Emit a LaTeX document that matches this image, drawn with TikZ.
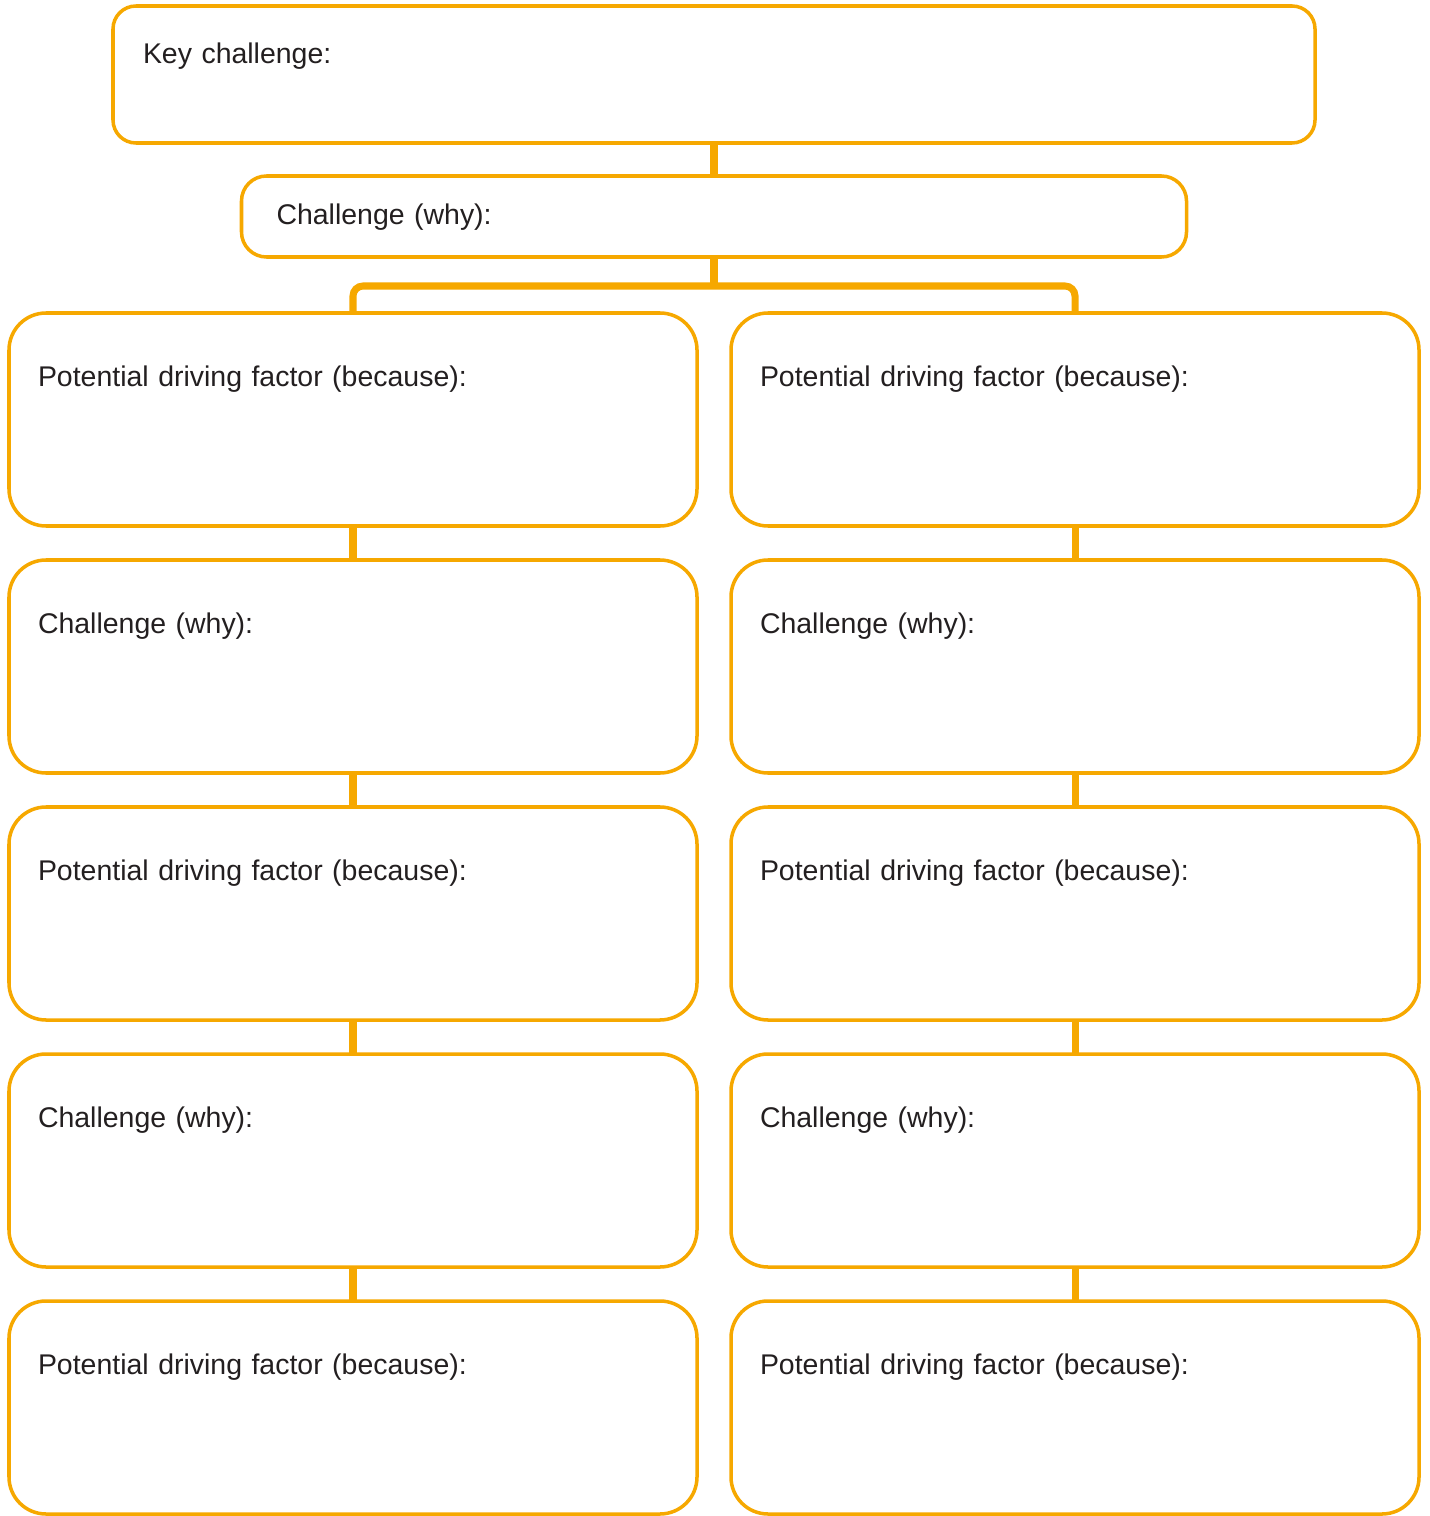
\documentclass[tikz,border=0pt]{standalone}
\usepackage{fontspec}
\setmainfont{Liberation Sans}
\usetikzlibrary{positioning}
\definecolor{boxorange}{RGB}{246,168,0}
\definecolor{textgray}{RGB}{35,31,32}

\begin{document}
\begin{tikzpicture}[node distance=0.34cm,
  main_node/.style={draw=boxorange, line width=1pt, outer sep=0pt, rounded corners=0.37cm, inner xsep=0.29cm, inner ysep=0cm, text width=6.3cm, text height=0.73cm, text depth=1.4cm, align=left, text=textgray, font=\fontsize{8.1pt}{10pt}\selectfont},
  link_line/.style={draw=boxorange, line width=2pt}]

  \useasboundingbox (0,0) rectangle (14.29,-15.16);

  \node[main_node, text width=11.42cm, inner xsep=0.3cm, text height=0.58cm, text depth=0.79cm, rounded corners=0.23cm] (key) at (7.14,-0.745) {Key challenge:};
  \node[main_node, text width=8.75cm, inner xsep=0.35cm, text height=0.49cm, text depth=0.32cm, rounded corners=0.25cm] (why) [below=0.33cm of key] {Challenge (why):};

  \node[main_node] (l1) at (3.53,-4.195) {Potential driving factor (because):};
  \node[main_node] (l2) [below=of l1] {Challenge (why):};
  \node[main_node] (l3) [below=of l2] {Potential driving factor (because):};
  \node[main_node] (l4) [below=of l3] {Challenge (why):};
  \node[main_node] (l5) [below=of l4] {Potential driving factor (because):};

  \node[main_node] (r1) [right=of l1] {Potential driving factor (because):};
  \node[main_node] (r2) [below=of r1] {Challenge (why):};
  \node[main_node] (r3) [below=of r2] {Potential driving factor (because):};
  \node[main_node] (r4) [below=of r3] {Challenge (why):};
  \node[main_node] (r5) [below=of r4] {Potential driving factor (because):};

  \coordinate (bar) at (7.14,-2.86);

  \path[link_line]
    (key) edge (why)
    (l1) edge (l2)
    (l2) edge (l3)
    (l3) edge (l4)
    (l4) edge (l5)
    (r1) edge (r2)
    (r2) edge (r3)
    (r3) edge (r4)
    (r4) edge (r5);
  \draw[link_line] (why.south) -- (bar);
  \draw[link_line, rounded corners=0.1cm] (l1.north) |- (bar) -| (r1.north);
\end{tikzpicture}
\end{document}
